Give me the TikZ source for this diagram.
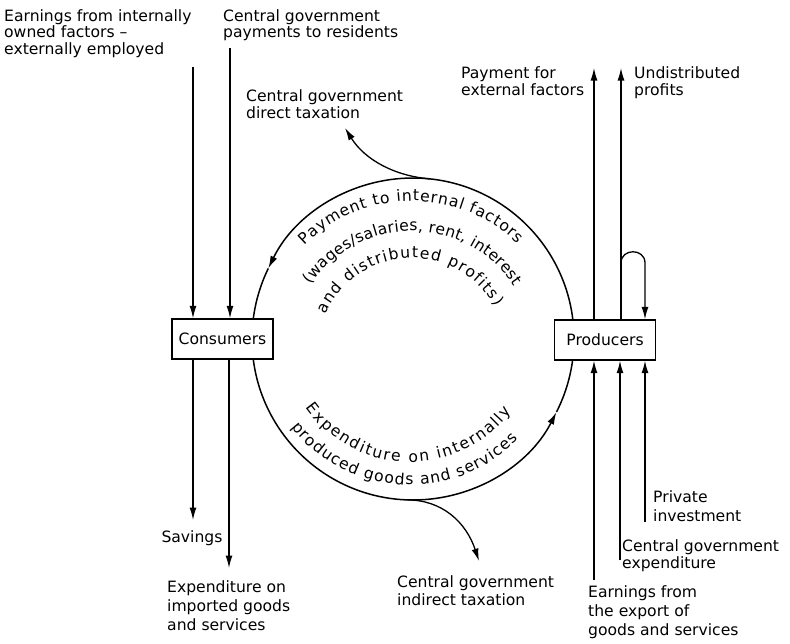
\documentclass[tikz,border=0pt]{standalone}
\usepackage{fontspec}
\setmainfont{DejaVu Sans}
\usetikzlibrary{arrows.meta,decorations.text}

\begin{document}
\fontsize{15.6}{17}\selectfont
\begin{tikzpicture}[x=1pt,y=1pt,yscale=-1,xscale=1,
  flow/.style={line width=1.3pt,-{Latex[length=12.5pt,width=7pt]}},
  plain/.style={line width=1.3pt},
  sector/.style={draw,line width=1.3pt,fill=white,minimum width=101pt,minimum height=40pt,inner sep=0pt},
  lbl/.style={inner sep=0pt,align=left,anchor=north west,font=\fontsize{15.6}{#1}\selectfont},
  lbl/.default=17,
  arctext/.style={decorate,decoration={text along path,text align={fit to path},text={#1}}}
]
\useasboundingbox (0,0) rectangle (790,643);

%Circle of payments
\coordinate (c) at (413,339);
\draw[flow,line width=1.5pt] (c) ++(0:161) arc[start angle=0,end angle=-154,radius=161];
\draw[plain,line width=1.5pt] (c) ++(-154:161) arc[start angle=-154,end angle=-180,radius=161];
\draw[flow,line width=1.5pt] (c) ++(180:161) arc[start angle=180,end angle=27,radius=161];
\draw[plain,line width=1.5pt] (c) ++(27:161) arc[start angle=27,end angle=0,radius=161];

% Boxes
\node[sector] (cons) at (222.5,339) {Consumers};
\node[sector] (prod) at (605,340) {Producers};

%Curved text inside the circle
\coordinate (tc) at (412,353);
\path[arctext={Payment to internal factors}] (tc) ++(-135:152) arc[start angle=-135,end angle=-46,radius=152];
\path[arctext={(wages/salaries, rent, interest}] (tc) ++(-146:122) arc[start angle=-146,end angle=-33,radius=122];
\path[arctext={and distributed profits)}] (tc) ++(-156:95) arc[start angle=-156,end angle=-29,radius=95];
\coordinate (bc) at (410,335);
\path[arctext={Expenditure on internally}] (bc) ++(145:127) arc[start angle=145,end angle=37,radius=127];
\path[arctext={produced goods and services}] (bc) ++(142:150) arc[start angle=142,end angle=44,radius=150];

%Taxation branches
\path (c) ++(-84:161) coordinate (ct) (c) ++(92:161) coordinate (cb);
\coordinate (dtip) at (345,128);
\coordinate (itip) at (479,561);
\draw[flow] (ct) .. controls (395,176) and (365,160) .. (dtip);
\draw[flow] (cb) .. controls (442,500) and (466,522) .. (itip);

%Straight Lines into and out of consumers
\coordinate (a1) at (193,67);
\coordinate (a2) at (230,48);
\coordinate (a3) at (193,520);
\coordinate (a4) at (229,568);
\draw[flow] (a1) -- (a1 |- cons.north);
\draw[flow] (a2) -- (a2 |- cons.north);
\draw[flow] (a3 |- cons.south) -- (a3);
\draw[flow] (a4 |- cons.south) -- (a4);

%Straight Lines into and out of producers
\coordinate (b1) at (594,68);
\coordinate (b2) at (621,68);
\coordinate (lp) at (621,263);
\coordinate (b3) at (645,263);
\draw[flow] (b1 |- prod.north) -- (b1);
\draw[flow] (b2 |- prod.north) -- (b2);
\draw[flow] (lp) .. controls +(0,-15) and +(0,-15) .. (b3) -- (b3 |- prod.north);
\coordinate (p1) at (594,580);
\coordinate (p2) at (620,560);
\coordinate (p3) at (645,522);
\draw[flow] (p1) -- (p1 |- prod.south);
\draw[flow] (p2) -- (p2 |- prod.south);
\draw[flow] (p3) -- (p3 |- prod.south);

% Text Node
\node[lbl=16.7] (earnext) at (4,9) {Earnings from internally\\owned factors –\\externally employed};
% Text Node
\node[lbl=16.7] (govpay) at (223,9) {Central government\\payments to residents};
% Text Node
\node[lbl] (dirtax) at (246,89) {Central government\\direct taxation};
% Text Node
\node[lbl=17.5] (payext) at (461,66) {Payment for\\external factors};
% Text Node
\node[lbl=17.5] (undist) at (634,66) {Undistributed\\profits};
% Text Node
\node[inner sep=0pt,anchor=north] (savings) at (192,530) {Savings};
% Text Node
\node[lbl=19] (expimp) at (167,580) {Expenditure on\\imported goods\\and services};
% Text Node
\node[lbl=18] (indtax) at (397,575) {Central government\\indirect taxation};
% Text Node
\node[lbl=19] (export) at (588,585) {Earnings from\\the export of\\goods and services};
% Text Node
\node[lbl=17.5] (govexp) at (622,539) {Central government\\expenditure};
% Text Node
\node[lbl=19] (privinv) at (653,490) {Private\\investment};

\end{tikzpicture}
\end{document}
